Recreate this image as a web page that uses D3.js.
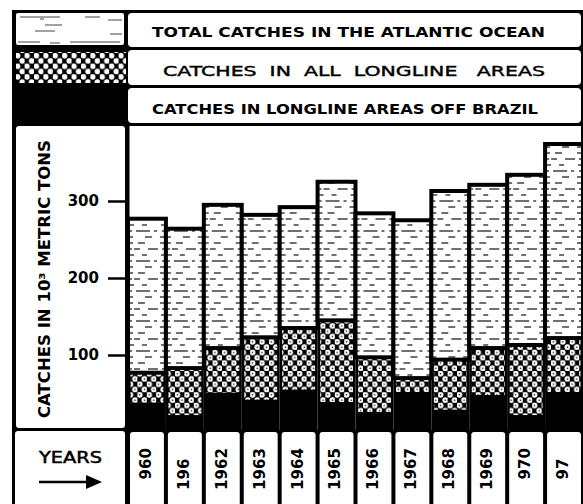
<!DOCTYPE html>
<html><head><meta charset="utf-8">
<script src="https://cdn.jsdelivr.net/npm/d3@7"></script>
<style>body{margin:0;background:#fff}svg{display:block}</style>
</head><body><svg id="c" width="583" height="504"></svg>
<script>
const years = [1960,1961,1962,1963,1964,1965,1966,1967,1968,1969,1970,1971];
const yearLabels = ["1960","1961","1962","1963","1964","1965","1966","1967","1968","1969","1970","1971"];
// characters lost in the printed original ("_" = no ink)
const yearInk = ["_960","196_","1962","1963","1964","1965","1966","1967","1968","1969","_970","_97_"];
const totalCatch = [277,264,295,282,292,325,284,275,313,321,334,374];
const longlineCatch = [77,83,109,123,135,145,97,70,94,109,113,122];
const brazilCatch = [38,22,51,42,55,39,26,52,29,48,22,52];
const yTicks = [100,200,300];
const legendLabels = ["TOTAL CATCHES IN THE ATLANTIC OCEAN","CATCHES  IN  ALL  LONGLINE   AREAS","CATCHES IN LONGLINE AREAS OFF BRAZIL"];
const yTitle = "CATCHES IN 10³ METRIC TONS";
const xTitle = "YEARS";

const svg = d3.select("#c");
const FONT = "'DejaVu Sans', 'Liberation Sans', sans-serif";
const x = d3.scaleBand().domain(years).range([128,583]).padding(0);
const y = d3.scaleLinear().domain([0,400]).range([432,124]);
const bw = x.bandwidth();

const defs = svg.append("defs");
// horizontal dash texture of the "total" parts
const pd = defs.append("pattern").attr("id","dash").attr("patternUnits","userSpaceOnUse")
  .attr("x",128).attr("y",0).attr("width",bw).attr("height",30);
pd.append("rect").attr("width",bw).attr("height",30).attr("fill","#fff");
const dashRows = [
  [[0,5],[10,17],[bw-6,bw]],
  [[0,4],[6,12],[20,30],[bw-4,bw]],
  [[0,6],[14,19],[bw-5,bw]],
  [[0,4],[8,22],[26,29],[bw-4,bw]],
  [[0,5],[17,24],[bw-6,bw]]
];
dashRows.forEach((segs,i)=>segs.forEach(s=>pd.append("line")
  .attr("x1",s[0]).attr("x2",s[1]).attr("y1",3+6*i).attr("y2",3+6*i)
  .attr("stroke","#222").attr("stroke-width",1.3)));
// cross-hatch texture
function hatch(id, dots, r){
  const p = defs.append("pattern").attr("id",id).attr("patternUnits","userSpaceOnUse")
    .attr("x",128).attr("y",0).attr("width",9.4).attr("height",10.6);
  p.append("rect").attr("width",9.4).attr("height",10.6).attr("fill","#000");
  [[2.35,2.65],[7.05,7.95]].forEach(c=>{
    p.append("circle").attr("cx",c[0]).attr("cy",c[1]).attr("r",r).attr("fill","#fff");
    if(dots) p.append("circle").attr("cx",c[0]).attr("cy",c[1]).attr("r",0.8).attr("fill","#000");
  });
}
hatch("xh",false,2.8); hatch("xh2",true,2.9);

// black background of the whole plate
svg.append("rect").attr("x",12).attr("y",10).attr("width",571).attr("height",494).attr("fill","#000");

// legend swatches (left)
svg.append("rect").attr("x",16).attr("y",13).attr("width",108).attr("height",32).attr("rx",2).attr("fill","#fff");
[[20,17,60],[40,19,44],[85,17,100],[45,25,62],[35,31,55],[18,42,40],[50,43,60],[70,42,120],[108,20,122],[110,34,122]]
  .forEach(d=>svg.append("line").attr("x1",d[0]).attr("x2",d[2]).attr("y1",d[1]).attr("y2",d[1])
  .attr("stroke","#444").attr("stroke-width",1));
svg.append("rect").attr("x",16).attr("y",52).attr("width",110).attr("height",31).attr("fill","url(#xh)");

// legend boxes (right)
const legY = [13,50,88], legH = [34,35,35];
const legTx = [[152,393,37],[163,382,76],[152,386,114]];
legendLabels.forEach((t,i)=>{
  svg.append("rect").attr("x",128).attr("y",legY[i]).attr("width",453).attr("height",legH[i])
    .attr("rx",4).attr("fill","#fff");
  svg.append("text").attr("x",legTx[i][0]).attr("y",legTx[i][2])
    .attr("textLength",legTx[i][1]).attr("lengthAdjust","spacingAndGlyphs")
    .attr("font-family",FONT).attr("font-size",14)
    .attr("font-weight", i===1 ? "normal" : "bold")
    .attr("stroke", i===1 ? "#000" : "none").attr("stroke-width",0.4)
    .attr("fill","#000").attr("xml:space","preserve").text(t);
});

// y-title panel
svg.append("rect").attr("x",16).attr("y",126).attr("width",109).attr("height",302).attr("rx",3).attr("fill","#fff");
svg.append("text").attr("transform","translate(50,279) rotate(-90)")
  .attr("text-anchor","middle").attr("font-family",FONT).attr("font-size",15).attr("font-weight","bold")
  .attr("textLength",278).attr("lengthAdjust","spacingAndGlyphs").text(yTitle);

// plot panel
svg.append("rect").attr("x",129).attr("y",126).attr("width",452).attr("height",304).attr("fill","#fff");

// bars
const g = svg.append("g");
years.forEach((yr,i)=>{
  const x0 = x(yr);
  g.append("rect").attr("x",x0).attr("y",y(longlineCatch[i])).attr("width",bw)
    .attr("height",y(0)-y(longlineCatch[i])).attr("fill","#000");
  g.append("rect").attr("x",x0+2.5).attr("y",y(longlineCatch[i])+1).attr("width",bw-5)
    .attr("height",Math.max(0,y(brazilCatch[i])-y(longlineCatch[i])-1)).attr("fill","url(#xh2)");
  g.append("rect").attr("x",x0).attr("y",y(totalCatch[i])).attr("width",bw)
    .attr("height",y(longlineCatch[i])-y(totalCatch[i])).attr("fill","url(#dash)")
    .attr("stroke","#000").attr("stroke-width",4);
});

// y axis
const ax = svg.append("g").attr("transform","translate(128,0)")
  .call(d3.axisLeft(y).tickValues(yTicks).tickSize(20).tickSizeOuter(0).tickPadding(9));
ax.select(".domain").attr("stroke","#000").attr("stroke-width",3).attr("d","M0,126V432");
ax.selectAll(".tick line").attr("stroke","#000").attr("stroke-width",2.5);
ax.selectAll(".tick text").attr("font-family",FONT).attr("font-size",15).attr("font-weight","bold").attr("fill","#000");

// year cells
years.forEach((yr,i)=>{
  const x0 = x(yr);
  svg.append("rect").attr("x",x0+2).attr("y",432).attr("width",bw-4).attr("height",80).attr("rx",3).attr("fill","#fff");
  const t = svg.append("text").attr("transform",`translate(${x0+bw/2-1.5},469) rotate(-90)`)
    .attr("text-anchor","middle").attr("dy","0.36em")
    .attr("font-family",FONT).attr("font-size",15).attr("font-weight","bold");
  yearLabels[i].split("").forEach((ch,k)=>{
    t.append("tspan").attr("fill", yearInk[i][k]==="_" ? "none" : "#000").text(ch);
  });
});

// YEARS panel
svg.append("rect").attr("x",15).attr("y",431).attr("width",110).attr("height",80).attr("rx",3).attr("fill","#fff");
svg.append("text").attr("x",39).attr("y",463).attr("textLength",63).attr("lengthAdjust","spacingAndGlyphs")
  .attr("font-family",FONT).attr("font-size",15).attr("font-weight","normal")
  .attr("stroke","#000").attr("stroke-width",0.5).text(xTitle);
svg.append("line").attr("x1",39).attr("x2",89).attr("y1",482).attr("y2",482).attr("stroke","#000").attr("stroke-width",2.5);
svg.append("path").attr("d","M86,475L102,482L86,489Z").attr("fill","#000");
</script></body></html>
